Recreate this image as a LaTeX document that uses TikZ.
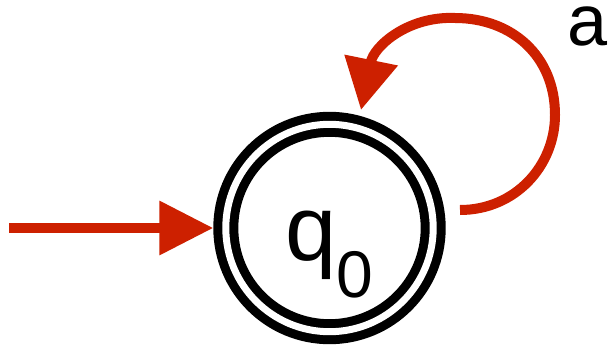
\documentclass[tikz,border=0pt]{standalone}
\usepackage{fontspec}
\setmainfont{Liberation Sans}
\usetikzlibrary{arrows.meta}
\definecolor{arrred}{RGB}{205,32,0}
\tikzset{
  state/.style={circle, draw=black, double=white, double distance=7pt, line width=9pt,
    minimum size=207.4pt, inner sep=0pt, outer sep=12.5pt,
    text height=80pt, text depth=16pt, font=\fontsize{92}{92}\selectfont},
  arr/.style={draw=arrred, line width=10pt, -{Triangle[length=54pt, width=52pt]}},
  looparr/.style={draw=arrred, line width=10pt, -{Triangle[length=51pt, width=52pt]}},
  lbl/.style={inner sep=0pt, font=\fontsize{72}{72}\selectfont}
}
\begin{document}
\begin{tikzpicture}[x=1pt,y=1pt]
\useasboundingbox (0,0) rectangle (612,346);
\node[state] (q0) at (329.5,118) {q\raisebox{-37pt}{\fontsize{66}{66}\selectfont 0}};
\coordinate (init) at (9,118);
\draw[arr] (init) -- (q0.west);
\coordinate (ls) at (460,136);
\coordinate (le) at (361,236);
\coordinate (lr) at (555,231);
\coordinate (lt) at (455,328);
\draw[looparr] (ls) .. controls (515,136) and (555,180) .. (lr)
  .. controls (555,290) and (512,328) .. (lt)
  .. controls (408,330) and (374,300) .. (le);
\node[lbl] (a) at (588,320) {a};
\end{tikzpicture}
\end{document}
